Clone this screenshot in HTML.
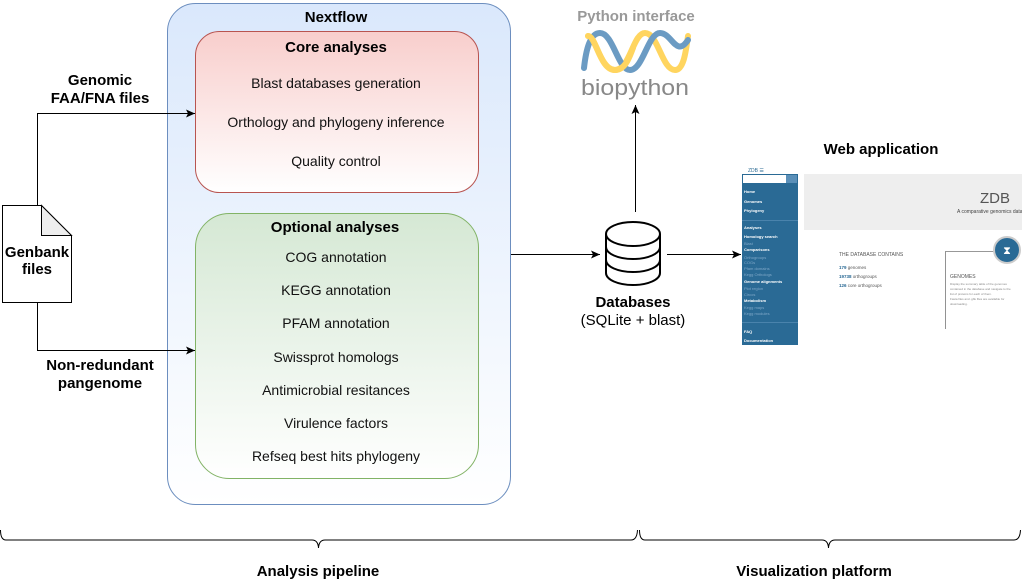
<!DOCTYPE html>
<html><head><meta charset="utf-8"><style>
html,body{margin:0;padding:0;background:#fff;}
svg{display:block;font-family:"Liberation Sans",sans-serif;}
</style></head><body>
<svg width="1022" height="585" viewBox="0 0 1022 585" xmlns="http://www.w3.org/2000/svg">
<defs>
<linearGradient id="gb" x1="0" y1="0" x2="0" y2="1"><stop offset="0" stop-color="#dae8fc"/><stop offset="1" stop-color="#ffffff"/></linearGradient>
<linearGradient id="gr" x1="0" y1="0" x2="0" y2="1"><stop offset="0" stop-color="#f8cecc"/><stop offset="1" stop-color="#ffffff"/></linearGradient>
<linearGradient id="gg" x1="0" y1="0" x2="0" y2="1"><stop offset="0" stop-color="#d5e8d4"/><stop offset="1" stop-color="#ffffff"/></linearGradient>
<marker id="ar" markerWidth="10" markerHeight="8" refX="9" refY="4" orient="auto" markerUnits="userSpaceOnUse"><path d="M0,0 L9,4 L0,8 L2,4 Z" fill="#000"/></marker>
</defs>
<rect x="167.5" y="3.5" width="343" height="501" rx="28" fill="url(#gb)" stroke="#6c8ebf"/>
<text x="336" y="22" text-anchor="middle" font-size="15" font-weight="bold">Nextflow</text>
<rect x="195.5" y="31.5" width="283" height="161" rx="24" fill="url(#gr)" stroke="#b85450"/>
<text x="336" y="52" text-anchor="middle" font-size="15" font-weight="bold">Core analyses</text>
<g font-size="14" text-anchor="middle" fill="#111">
<text x="336" y="88">Blast databases generation</text>
<text x="336" y="127">Orthology and phylogeny inference</text>
<text x="336" y="166">Quality control</text>
</g>
<rect x="195.5" y="213.5" width="283" height="265" rx="34" fill="url(#gg)" stroke="#82b366"/>
<text x="335" y="232" text-anchor="middle" font-size="15" font-weight="bold">Optional analyses</text>
<g font-size="14" text-anchor="middle" fill="#111">
<text x="336" y="262">COG annotation</text>
<text x="336" y="295">KEGG annotation</text>
<text x="336" y="328">PFAM annotation</text>
<text x="336" y="362">Swissprot homologs</text>
<text x="336" y="395">Antimicrobial resitances</text>
<text x="336" y="428">Virulence factors</text>
<text x="336" y="461">Refseq best hits phylogeny</text>
</g>
<path d="M2.5,205.5 H41.5 L71.5,235.5 V302.5 H2.5 Z" fill="#fff" stroke="#000"/>
<path d="M41.5,205.5 V235.5 H71.5 Z" fill="#eee" stroke="#000"/>
<text x="37" y="257" text-anchor="middle" font-size="15" font-weight="bold">Genbank</text>
<text x="37" y="274" text-anchor="middle" font-size="15" font-weight="bold">files</text>
<g stroke="#000" fill="none" stroke-width="1">
<path d="M37.5,205 V113.5 H195" marker-end="url(#ar)"/>
<path d="M37.5,303 V350.5 H195" marker-end="url(#ar)"/>
<path d="M511,254.5 H600" marker-end="url(#ar)"/>
<path d="M667,254.5 H741" marker-end="url(#ar)"/>
<path d="M635.5,212 V105" marker-end="url(#ar)"/>
</g>
<g font-size="15" font-weight="bold" text-anchor="middle">
<text x="100" y="85">Genomic</text>
<text x="100" y="103">FAA/FNA files</text>
<text x="100" y="370">Non-redundant</text>
<text x="100" y="388">pangenome</text>
</g>
<g stroke="#000" stroke-width="2" fill="#fff">
<path d="M606,234 V273 A27,12 0 0 0 660,273 V234"/>
<ellipse cx="633" cy="234" rx="27" ry="12"/>
<path d="M606,247 A27,12 0 0 0 660,247"/>
<path d="M606,260 A27,12 0 0 0 660,260"/>
</g>
<text x="633" y="307" text-anchor="middle" font-size="15" font-weight="bold">Databases</text>
<text x="633" y="325" text-anchor="middle" font-size="15">(SQLite + blast)</text>
<text x="636" y="21" text-anchor="middle" font-size="15" font-weight="bold" fill="#999">Python interface</text>
<g fill="none" stroke-width="6" stroke-linecap="round">
<path d="M588,36 C596,36 600,70 615,70 C630,70 633,33 645,33 C658,33 662,70 675,70 C684,70 686,50 688,36" stroke="#ffd55f"/>
<path d="M584,68 C586,50 590,33 600,33 C613,33 618,70 630,70 C643,70 648,33 660,33 C672,33 676,58 688,40" stroke="#6b9bc3"/>
<path d="M588,36 C596,36 600,70 615,70 C626,70 630,55 633,48" stroke="#ffd55f"/>
</g>
<text x="635" y="95" text-anchor="middle" font-size="22" fill="#888" textLength="108" lengthAdjust="spacingAndGlyphs">biopython</text>
<text x="881" y="154" text-anchor="middle" font-size="15" font-weight="bold">Web application</text>
<text x="748" y="172" font-size="5" fill="#2c6b94">ZDB ☰</text>
<rect x="742" y="174" width="56" height="171" fill="#2a6a95"/>
<rect x="743" y="175" width="43" height="8" fill="#fff"/>
<rect x="786" y="175" width="11" height="8" fill="#5a8fb8"/>
<g font-size="4" fill="#fff" font-weight="bold">
<text x="744" y="193">Home</text><text x="744" y="203">Genomes</text><text x="744" y="212">Phylogeny</text>
<text x="744" y="229">Analyses</text><text x="744" y="238">Homology search</text><text x="744" y="251">Comparisons</text>
<text x="744" y="283">Genome alignments</text><text x="744" y="302">Metabolism</text>
<text x="744" y="333">FAQ</text><text x="744" y="342">Documentation</text>
</g>
<g font-size="4" fill="#7fa8c8">
<text x="744" y="245">Blast</text><text x="744" y="259">Orthogroups</text><text x="744" y="264">COGs</text><text x="744" y="270">Pfam domains</text><text x="744" y="276">Kegg Orthologs</text>
<text x="744" y="290">Plot region</text><text x="744" y="296">Circos</text><text x="744" y="309">Kegg maps</text><text x="744" y="315">Kegg modules</text>
</g>
<line x1="742" y1="220.5" x2="798" y2="220.5" stroke="#6b9bc3" stroke-width="0.6"/>
<line x1="742" y1="322.5" x2="798" y2="322.5" stroke="#6b9bc3" stroke-width="0.6"/>
<rect x="804" y="174" width="218" height="56" fill="#eeeeee"/>
<text x="980" y="203" font-size="15" fill="#555">ZDB</text>
<text x="957" y="213" font-size="5" fill="#444">A comparative genomics data</text>
<text x="839" y="256" font-size="5" fill="#555">THE DATABASE CONTAINS</text>
<g font-size="4.5" fill="#555">
<text x="839" y="269"><tspan fill="#2a6a95" font-weight="bold">179</tspan> genomes</text>
<text x="839" y="278"><tspan fill="#2a6a95" font-weight="bold">19738</tspan> orthogroups</text>
<text x="839" y="287"><tspan fill="#2a6a95" font-weight="bold">126</tspan> core orthogroups</text>
</g>
<path d="M945.5,329 V251.5 H995" stroke="#777" fill="none" stroke-width="0.8"/>
<circle cx="1007" cy="250" r="13" fill="#2a6a95" stroke="#ccc" stroke-width="2"/>
<text x="1007" y="254" text-anchor="middle" font-size="11" fill="#fff">⧗</text>
<text x="950" y="278" font-size="5" fill="#555">GENOMES</text>
<g font-size="3" fill="#888"><text x="950" y="285">Display the summary table of the genomes</text><text x="950" y="290">contained in the database and navigate to the</text><text x="950" y="295">list of proteins for each of them.</text><text x="950" y="300">Fasta files and .gbk files are available for</text><text x="950" y="305">downloading.</text></g>
<g stroke="#000" fill="none" stroke-width="1">
<path d="M0.5,530 Q0.5,540 6,540 H312 Q318,540 318.5,548 Q319,540 325,540 H631 Q637,540 637.5,530"/>
<path d="M639.5,530 Q639.5,540 645,540 H822 Q828,540 828.5,548 Q829,540 835,540 H1014 Q1020,540 1020.5,530"/>
</g>
<text x="318" y="576" text-anchor="middle" font-size="15" font-weight="bold">Analysis pipeline</text>
<text x="814" y="576" text-anchor="middle" font-size="15" font-weight="bold">Visualization platform</text>
</svg>
</body></html>
